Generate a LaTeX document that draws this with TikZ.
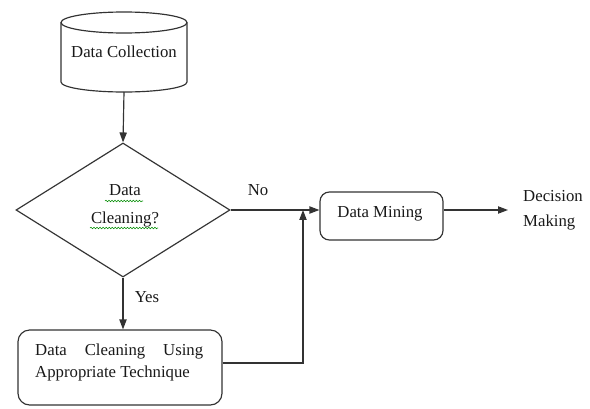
\documentclass[tikz,border=0pt]{standalone}
\usepackage{fontspec}
\setmainfont{Liberation Serif}
\usetikzlibrary{shapes.geometric,arrows.meta,decorations.pathmorphing,calc}
\begin{document}
\begin{tikzpicture}[x=0.03cm,y=0.03cm,
  flow/.style={line width=1pt, draw=black!80},
  arr/.style={flow, -{Triangle[length=8.5pt,width=6.2pt]}},
  txt/.style={font=\fontsize{14.3}{19.5}\selectfont, text=black!90, inner sep=0pt},
  rbox/.style={flow, rounded corners=8pt, inner sep=0pt},
  squiggle/.style={draw=green!55!black, line width=0.45pt, decorate,
    decoration={snake, amplitude=0.7pt, segment length=2.6pt}}]
\useasboundingbox (0,0) rectangle (590,408);

% storage cylinder
\draw[flow] (61,385.5) -- (61,326) arc[start angle=180,end angle=360,x radius=63,y radius=10] -- (187,385.5);
\draw[flow, fill=white] (124,385.5) ellipse [x radius=63,y radius=10.5];
\node[txt] (collect) at (124,356) {Data Collection};
\coordinate (collectbase) at (124,316);

% decision
\node[diamond, flow, draw, minimum width=6.42cm, minimum height=4.02cm, inner sep=0pt] (check) at (123,198) {};
\node[txt, align=center, font=\fontsize{14.3}{24}\selectfont] (checktext) at (125,202) {Data\\Cleaning?};
\draw[squiggle] (105,207) -- (143,207);
\draw[squiggle] (90,180) -- (158,180);

% cleaning step
\node[rbox, rounded corners=10pt, minimum width=6.12cm, minimum height=2.25cm] (clean) at (120,40.5) {};
\node[txt, align=left, anchor=west] (cleantext) at (35,45.5)
  {\hbox to 5.04cm{Data\hfill Cleaning\hfill Using}\\Appropriate Technique};

% mining step
\node[rbox, minimum width=3.69cm, minimum height=1.44cm] (mine) at (381.5,192) {};
\node[txt] (minetext) at (380,194) {Data Mining};

% outcome
\node[txt, align=left, anchor=west, font=\fontsize{14.3}{21}\selectfont] (decide) at (523,197.5) {Decision\\Making};

% connectors
\draw[arr] (collectbase) -- (check.north);
\draw[arr] (check.south) -- (check.south |- clean.north);
\node[txt] (yes) at (147,111) {Yes};
\draw[arr] (check.east) -- (check.east -| mine.west);
\node[txt] (no) at (258,218) {No};
\draw[arr, shorten >=0.45cm] (check.east -| mine.east) -- (check.east -| decide.west);
\coordinate (merge) at (303,45);
\draw[arr] (clean.east |- merge) -- (merge) -- (merge |- check.east);
\end{tikzpicture}
\end{document}
